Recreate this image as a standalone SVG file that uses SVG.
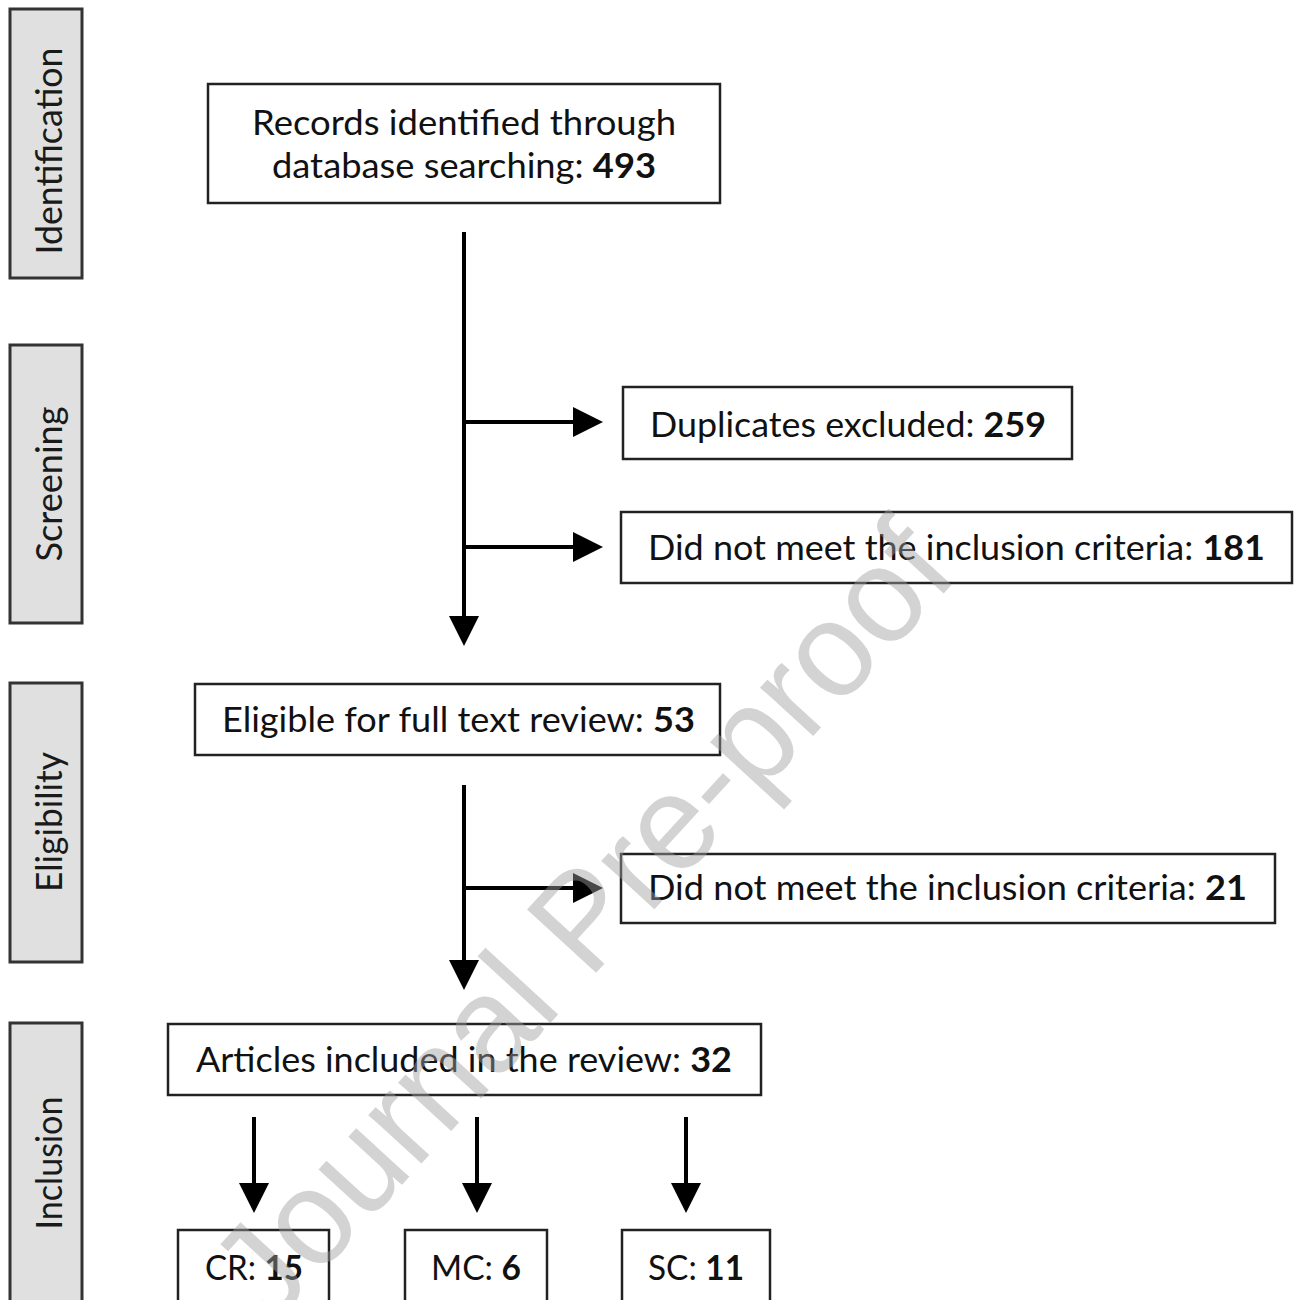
<svg xmlns="http://www.w3.org/2000/svg" width="1294" height="1300" viewBox="0 0 1294 1300">
<style>
  .phase rect { fill: #e0e0e0; stroke: #333; stroke-width: 3; }
  .phase text { font-family: Lato, "Open Sans", sans-serif; font-size: 36px; fill: #1a1a1a; text-anchor: middle; }
  .node rect { fill: #fff; stroke: #222; stroke-width: 2.5; }
  .node text { font-family: Lato, "Open Sans", sans-serif; font-size: 34px; fill: #111; text-anchor: middle; }
  .node tspan.b { font-weight: bold; }
  .conn line { stroke: #000; stroke-width: 4; }
  .wm { font-family: "Liberation Sans", Arial, sans-serif; font-size: 136px; fill: #a0a0a0; opacity: 0.45; text-anchor: middle; }
</style>
<defs>
  <marker id="arr" viewBox="0 0 30 30" refX="20" refY="15" markerWidth="30" markerHeight="30" markerUnits="userSpaceOnUse" orient="auto">
    <path d="M0,0 L30,15 L0,30 Z" fill="#000"/>
  </marker>
</defs>
<rect width="1294" height="1300" fill="#fff"/>

<g id="phase-identification" class="phase">
  <rect x="10" y="9" width="72" height="269"/>
  <text transform="translate(62,151) rotate(-90)" textLength="207" lengthAdjust="spacingAndGlyphs">Identification</text>
</g>
<g id="phase-screening" class="phase">
  <rect x="10" y="345" width="72" height="278"/>
  <text transform="translate(62,484) rotate(-90)" textLength="155" lengthAdjust="spacingAndGlyphs">Screening</text>
</g>
<g id="phase-eligibility" class="phase">
  <rect x="10" y="683" width="72" height="279"/>
  <text transform="translate(62,822) rotate(-90)" textLength="140" lengthAdjust="spacingAndGlyphs">Eligibility</text>
</g>
<g id="phase-inclusion" class="phase">
  <rect x="10" y="1023" width="72" height="290"/>
  <text transform="translate(62,1163) rotate(-90)" textLength="133" lengthAdjust="spacingAndGlyphs">Inclusion</text>
</g>

<g id="node-records" class="node">
  <rect x="208" y="84" width="512" height="119"/>
  <text x="464" y="135" textLength="424" lengthAdjust="spacingAndGlyphs">Records identified through</text>
  <text x="464" y="178" textLength="384" lengthAdjust="spacingAndGlyphs">database searching: <tspan class="b">493</tspan></text>
</g>
<g id="node-duplicates" class="node">
  <rect x="623" y="387" width="449" height="72"/>
  <text x="848" y="437" textLength="396" lengthAdjust="spacingAndGlyphs">Duplicates excluded: <tspan class="b">259</tspan></text>
</g>
<g id="node-excluded-181" class="node">
  <rect x="621" y="512" width="671" height="71"/>
  <text x="956.5" y="560" textLength="617" lengthAdjust="spacingAndGlyphs">Did not meet the inclusion criteria: <tspan class="b">181</tspan></text>
</g>
<g id="node-eligible" class="node">
  <rect x="195" y="684" width="525" height="71"/>
  <text x="458.5" y="732" textLength="473" lengthAdjust="spacingAndGlyphs">Eligible for full text review: <tspan class="b">53</tspan></text>
</g>
<g id="node-excluded-21" class="node">
  <rect x="621" y="854" width="654" height="69"/>
  <text x="947.5" y="900" textLength="599" lengthAdjust="spacingAndGlyphs">Did not meet the inclusion criteria: <tspan class="b">21</tspan></text>
</g>
<g id="node-included" class="node">
  <rect x="168" y="1024" width="593" height="71"/>
  <text x="464" y="1072" textLength="536" lengthAdjust="spacingAndGlyphs">Articles included in the review: <tspan class="b">32</tspan></text>
</g>
<g id="node-cr" class="node">
  <rect x="178" y="1230" width="151" height="85"/>
  <text x="254" y="1280" textLength="98" lengthAdjust="spacingAndGlyphs">CR: <tspan class="b">15</tspan></text>
</g>
<g id="node-mc" class="node">
  <rect x="405" y="1230" width="142" height="85"/>
  <text x="476" y="1280" textLength="90" lengthAdjust="spacingAndGlyphs">MC: <tspan class="b">6</tspan></text>
</g>
<g id="node-sc" class="node">
  <rect x="622" y="1230" width="148" height="85"/>
  <text x="696" y="1280" textLength="96" lengthAdjust="spacingAndGlyphs">SC: <tspan class="b">11</tspan></text>
</g>

<g id="connectors" class="conn">
  <line x1="464" y1="232" x2="464" y2="636" marker-end="url(#arr)"/>
  <line x1="464" y1="422" x2="593" y2="422" marker-end="url(#arr)"/>
  <line x1="464" y1="547" x2="593" y2="547" marker-end="url(#arr)"/>
  <line x1="464" y1="785" x2="464" y2="980" marker-end="url(#arr)"/>
  <line x1="464" y1="888" x2="593" y2="888" marker-end="url(#arr)"/>
  <line x1="254" y1="1117" x2="254" y2="1203" marker-end="url(#arr)"/>
  <line x1="477" y1="1117" x2="477" y2="1203" marker-end="url(#arr)"/>
  <line x1="686" y1="1117" x2="686" y2="1203" marker-end="url(#arr)"/>
</g>

<g id="watermark">
  <text class="wm" transform="translate(580,918) rotate(-47.5)" dy="0.36em" textLength="1020" lengthAdjust="spacingAndGlyphs">Journal Pre-proof</text>
</g>
</svg>
